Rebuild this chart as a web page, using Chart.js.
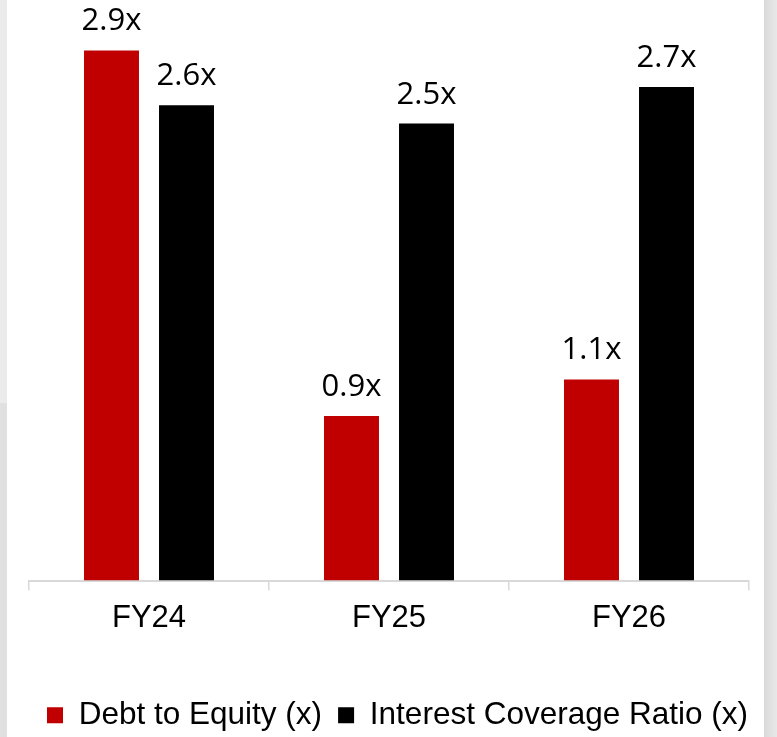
<!DOCTYPE html>
<html>
<head>
<meta charset="utf-8">
<script src="https://cdn.jsdelivr.net/npm/chart.js@4.4.1/dist/chart.umd.min.js"></script>
<style>
  html, body { margin: 0; padding: 0; overflow: hidden; }
  body { width: 777px; height: 737px; position: relative; background: #ffffff; }
  #edgeLeft { position: absolute; left: 0; top: 0; width: 7px; height: 737px;
    background: linear-gradient(to bottom, #ebebeb 0, #ebebeb 403px, #e0e0e0 403px, #e0e0e0 100%); }
  #edgeRight { position: absolute; left: 764px; top: 0; width: 13px; height: 737px;
    background: linear-gradient(to right, #d9d9d9, #e9e9e9); }
  #card { position: absolute; left: 7px; top: 0; width: 757px; height: 751px; background: #ffffff; }
  canvas { display: block; }
</style>
</head>
<body>
<div id="edgeLeft"></div>
<div id="edgeRight"></div>
<div id="card"><canvas id="chart" width="757" height="751"></canvas></div>
<script>
// Leverage ratios by fiscal year
const categories = ['FY24', 'FY25', 'FY26'];
const debtToEquity = [2.9, 0.9, 1.1];
const interestCoverage = [2.6, 2.5, 2.7];
const seriesLabels = ['Debt to Equity (x)', 'Interest Coverage Ratio (x)'];
const seriesColors = ['#C00000', '#000000'];
const valueSuffix = 'x';
const yMax = 3.176;

const axisFont = '"Liberation Sans", Arial, sans-serif';
const labelFont = '"Open Sans", "Liberation Sans", sans-serif';

// Writes each bar's value above it
const valueLabels = {
  id: 'valueLabels',
  afterDatasetsDraw(chart) {
    const ctx = chart.ctx;
    ctx.save();
    ctx.font = '31px ' + labelFont;
    ctx.fillStyle = '#000000';
    ctx.textAlign = 'center';
    ctx.textBaseline = 'alphabetic';
    chart.data.datasets.forEach((ds, i) => {
      chart.getDatasetMeta(i).data.forEach((bar, j) => {
        ctx.fillText(ds.data[j].toFixed(1) + valueSuffix, bar.x, bar.y - 20);
      });
    });
    ctx.restore();
  }
};

// Invisible side axes that only reserve margin around the plot
const blankAxis = (position, width) => ({
  display: true,
  position: position,
  grid: { display: false },
  border: { display: false },
  ticks: { display: false },
  afterFit(scale) { scale.width = width; }
});

function draw() {
  const yLeft = blankAxis('left', 22);
  yLeft.min = 0;
  yLeft.max = yMax;
  const yRight = blankAxis('right', 15);
  yRight.min = 0;
  yRight.max = yMax;

  new Chart(document.getElementById('chart'), {
    type: 'bar',
    data: {
      labels: categories,
      datasets: [
        { label: seriesLabels[0], data: debtToEquity, backgroundColor: seriesColors[0] },
        { label: seriesLabels[1], data: interestCoverage, backgroundColor: seriesColors[1] }
      ]
    },
    options: {
      responsive: false,
      animation: false,
      devicePixelRatio: 1,
      datasets: { bar: { categoryPercentage: 0.625, barPercentage: 0.733 } },
      layout: { padding: { left: 0, right: 0, top: 0, bottom: 10 } },
      scales: {
        x: {
          grid: { display: true, drawOnChartArea: false, drawTicks: true, tickLength: 10,
                  color: '#d9d9d9', lineWidth: 1.5, offset: true },
          border: { display: true, color: '#d9d9d9', width: 2 },
          ticks: { color: '#000000', padding: 9, font: { family: axisFont, size: 31 } },
          afterFit(scale) { scale.height = 103; }
        },
        y: yLeft,
        yRight: yRight
      },
      plugins: {
        legend: {
          position: 'bottom',
          align: 'end',
          labels: { boxWidth: 16, boxHeight: 16, padding: 16, color: '#000000',
                    font: { family: axisFont, size: 31.5 } }
        },
        tooltip: { enabled: false }
      }
    },
    plugins: [valueLabels]
  });
}

Promise.all([
  document.fonts.load('31px "Liberation Sans"'),
  document.fonts.load('31px "Open Sans"')
]).then(draw, draw);
</script>
</body>
</html>
